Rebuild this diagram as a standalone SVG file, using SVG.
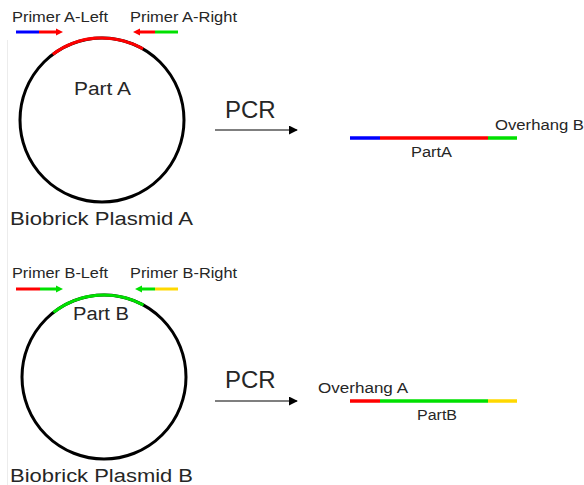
<svg xmlns="http://www.w3.org/2000/svg" width="584" height="485" viewBox="0 0 584 485">
<defs>
<style>
text{font-family:"Liberation Sans",Arial,sans-serif;fill:#262626}
.lbl{font-size:14px}
.part{font-size:18px}
.pcr{font-size:24px}
.title{font-size:18px}
.small{font-size:14px}
.ring{fill:none;stroke:#000;stroke-width:3}
.seg{fill:none;stroke-width:3}
.dna{fill:none;stroke-width:3.5}
.conn{fill:none;stroke:#000;stroke-width:1.2}
</style>
<marker id="ah" viewBox="0 0 10 10" refX="9" refY="5" markerWidth="9" markerHeight="9" markerUnits="userSpaceOnUse" orient="auto"><path d="M0,0L10,5L0,10Z" fill="#000"/></marker>
</defs>
<rect width="584" height="485" fill="#fff"/>
<line x1="7.5" y1="40" x2="7.5" y2="485" stroke="#ececec" stroke-width="1"/>

<g id="plasmidA">
<circle class="ring" cx="102" cy="120" r="82"/>
<path class="seg" stroke="#f00" d="M52.8,54.4 A82,82 0 0 1 143,48.9"/>
<text class="part" x="74" y="95" textLength="57" lengthAdjust="spacingAndGlyphs">Part A</text>
<text class="title" x="10" y="225" textLength="183" lengthAdjust="spacingAndGlyphs">Biobrick Plasmid A</text>
</g>

<g id="primerALeft">
<text class="lbl" x="12" y="22" textLength="96" lengthAdjust="spacingAndGlyphs">Primer A-Left</text>
<line class="seg" stroke="#0000ff" x1="16" y1="32" x2="39" y2="32"/>
<line class="seg" stroke="#f00" x1="39" y1="32" x2="57" y2="32"/>
<path d="M56,28.5L63,32L56,35.5Z" fill="#f00"/>
</g>

<g id="primerARight">
<text class="lbl" x="130" y="22" textLength="107" lengthAdjust="spacingAndGlyphs">Primer A-Right</text>
<path d="M140,28.5L133,32L140,35.5Z" fill="#f00"/>
<line class="seg" stroke="#f00" x1="139" y1="32" x2="155" y2="32"/>
<line class="seg" stroke="#00e000" x1="155" y1="32" x2="178" y2="32"/>
</g>

<g id="pcrA">
<text class="pcr" x="225" y="118">PCR</text>
</g>

<g id="productA">
<line class="dna" stroke="#0000ff" x1="350" y1="138" x2="380" y2="138"/>
<line class="dna" stroke="#f00" x1="380" y1="138" x2="488" y2="138"/>
<line class="dna" stroke="#00e000" x1="488" y1="138" x2="517" y2="138"/>
<text class="small" x="495" y="130" textLength="89" lengthAdjust="spacingAndGlyphs">Overhang B</text>
<text class="small" x="411" y="157" textLength="41" lengthAdjust="spacingAndGlyphs">PartA</text>
</g>

<g id="plasmidB">
<circle class="ring" cx="104" cy="377" r="82"/>
<path class="seg" stroke="#00e000" d="M53.5,312.4 A82,82 0 0 1 143.5,305.1"/>
<text class="part" x="73" y="320" textLength="56" lengthAdjust="spacingAndGlyphs">Part B</text>
<text class="title" x="10" y="482" textLength="183" lengthAdjust="spacingAndGlyphs">Biobrick Plasmid B</text>
</g>

<g id="primerBLeft">
<text class="lbl" x="12" y="278" textLength="96" lengthAdjust="spacingAndGlyphs">Primer B-Left</text>
<line class="seg" stroke="#f00" x1="16" y1="289" x2="40" y2="289"/>
<line class="seg" stroke="#00e000" x1="40" y1="289" x2="57" y2="289"/>
<path d="M56,285.5L63,289L56,292.5Z" fill="#00e000"/>
</g>

<g id="primerBRight">
<text class="lbl" x="130" y="278" textLength="107" lengthAdjust="spacingAndGlyphs">Primer B-Right</text>
<path d="M142,285.5L135,289L142,292.5Z" fill="#00e000"/>
<line class="seg" stroke="#00e000" x1="141" y1="289" x2="155" y2="289"/>
<line class="seg" stroke="#ffd800" x1="155" y1="289" x2="178" y2="289"/>
</g>

<g id="pcrB">
<text class="pcr" x="225" y="388">PCR</text>
</g>

<g id="productB">
<line class="dna" stroke="#f00" x1="350" y1="401" x2="380" y2="401"/>
<line class="dna" stroke="#00e000" x1="380" y1="401" x2="488" y2="401"/>
<line class="dna" stroke="#ffd800" x1="488" y1="401" x2="517" y2="401"/>
<text class="small" x="318" y="393" textLength="90" lengthAdjust="spacingAndGlyphs">Overhang A</text>
<text class="small" x="417" y="420" textLength="40" lengthAdjust="spacingAndGlyphs">PartB</text>
</g>

<g id="connectors">
<line class="conn" x1="215" y1="130" x2="297" y2="130" marker-end="url(#ah)"/>
<line class="conn" x1="215" y1="401" x2="297" y2="401" marker-end="url(#ah)"/>
</g>
</svg>
